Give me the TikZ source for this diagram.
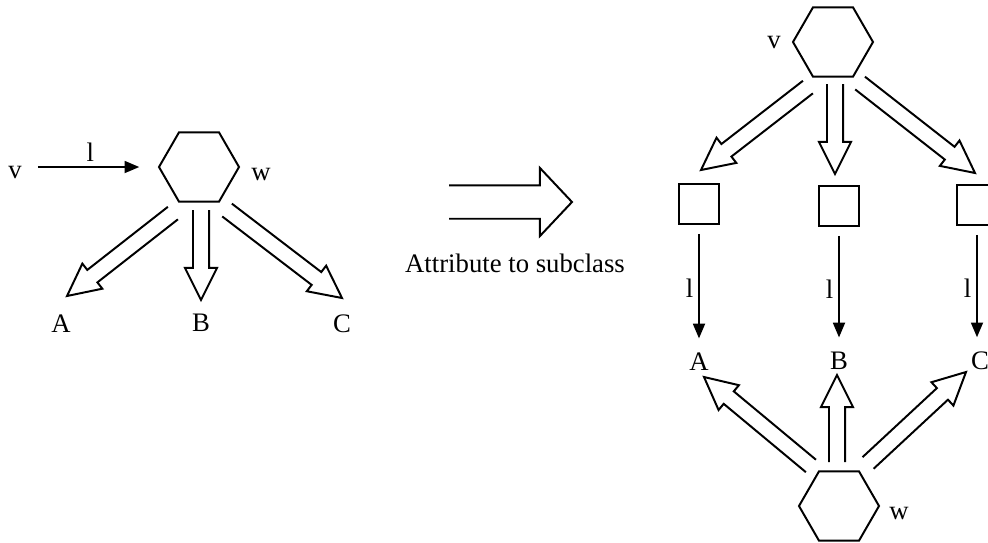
\documentclass[tikz,border=0pt]{standalone}
\usepackage{fontspec}
\setmainfont{Liberation Serif}
\usetikzlibrary{calc,arrows.meta,shapes.geometric}
\tikzset{
	every node/.style={font=\fontsize{19}{23}\selectfont,inner sep=0pt,outer sep=0pt},
	hexa/.style={regular polygon,regular polygon sides=6,draw,minimum size=2cm},
	box/.style={rectangle,draw,minimum size=1cm},
	directed/.style={arrows={-Triangle[length=10.5pt,width=8.5pt]}},
	hollow/.style n args={3}{to path={
		let \p1=(\tikztostart), \p2=(\tikztotarget),
		\n1={atan2(\y2-\y1,\x2-\x1)}, \n2={veclen(\x2-\x1,\y2-\y1)} in
		(\p1) ++(\n1+90:#1) -- ++(\n1:\n2-#3) -- ++(\n1+90:#2-#1) -- (\p2)
		-- ($(\p2)+(\n1+180:#3)+(\n1-90:#2)$) -- ++(\n1+90:#2-#1) -- ++(\n1+180:\n2-#3)}},
	fat/.style={hollow={5.7pt}{11.4pt}{22.8pt}},
	big/.style={hollow={11.9pt}{24.2pt}{22.8pt}}
	}

\begin{document}
\begin{tikzpicture}[x=0.025cm,y=-0.025cm,line width=1.4pt]
	\useasboundingbox (0,0) rectangle (988,542);
	\clip (0,0) rectangle (988,542);
	% before
	\node (v1) at (15,172) {v};
	\node[hexa] (w1) at (199,167) {};
	\node (wl1) at (261,174) {w};
	\node (A1) at (61,324) {A};
	\node (B1) at (201,323) {B};
	\node (C1) at (342,324) {C};
	\draw[directed,shorten <=11.5pt,shorten >=14pt] (v1.east |- w1.west) -- node[above=4pt] {l} (w1.west);
	\draw[fat] ([shift={(-26,46)}]w1.center) to ([shift={(6,-28)}]A1.center);
	\draw[fat] ([shift={(2,43)}]w1.center) to ([shift={(0,-23)}]B1.center);
	\draw[fat] ([shift={(28,43)}]w1.center) to ([shift={(0,-26)}]C1.center);
	% step
	\coordinate (s1) at (449,202);
	\coordinate (s2) at (572,202);
	\draw[big] (s1) to (s2);
	\node (sub) at (515,263) {Attribute to subclass};
	% after
	\node[hexa] (v2) at (833,42) {};
	\node (vl2) at (774,42) {v};
	\node[box] (b1) at (699,204) {};
	\node[box] (b2) at (839,206) {};
	\node[box] (b3) at (977,205) {};
	\node (A2) at (699,362) {A};
	\node (B2) at (839,361) {B};
	\node (C2) at (980,361) {C};
	\node[hexa] (w2) at (839,506) {};
	\node (wl2) at (899,513) {w};
	\draw[fat] ([shift={(-25,45)}]v2.center) to ([shift={(2,-34)}]b1.center);
	\draw[fat] ([shift={(2,42)}]v2.center) to ([shift={(-4,-32)}]b2.center);
	\draw[fat] ([shift={(27,41)}]v2.center) to ([shift={(-2,-32)}]b3.center);
	\draw[directed,shorten <=7pt,shorten >=10.5pt] (b1.south) -- node[left=4pt] {l} (A2.north);
	\draw[directed,shorten <=7pt,shorten >=10.5pt] (b2.south) -- node[left=4pt] {l} (B2.north);
	\draw[directed,shorten <=7pt,shorten >=10.5pt] (b3.south) -- node[left=4pt] {l} (b3.south |- C2.north);
	\draw[fat] ([shift={(-28,-40)}]w2.center) to ([shift={(5,15)}]A2.center);
	\draw[fat] ([shift={(-2,-44)}]w2.center) to ([shift={(-2,14)}]B2.center);
	\draw[fat] ([shift={(29,-43)}]w2.center) to ([shift={(-14,11)}]C2.center);
\end{tikzpicture}
\end{document}
